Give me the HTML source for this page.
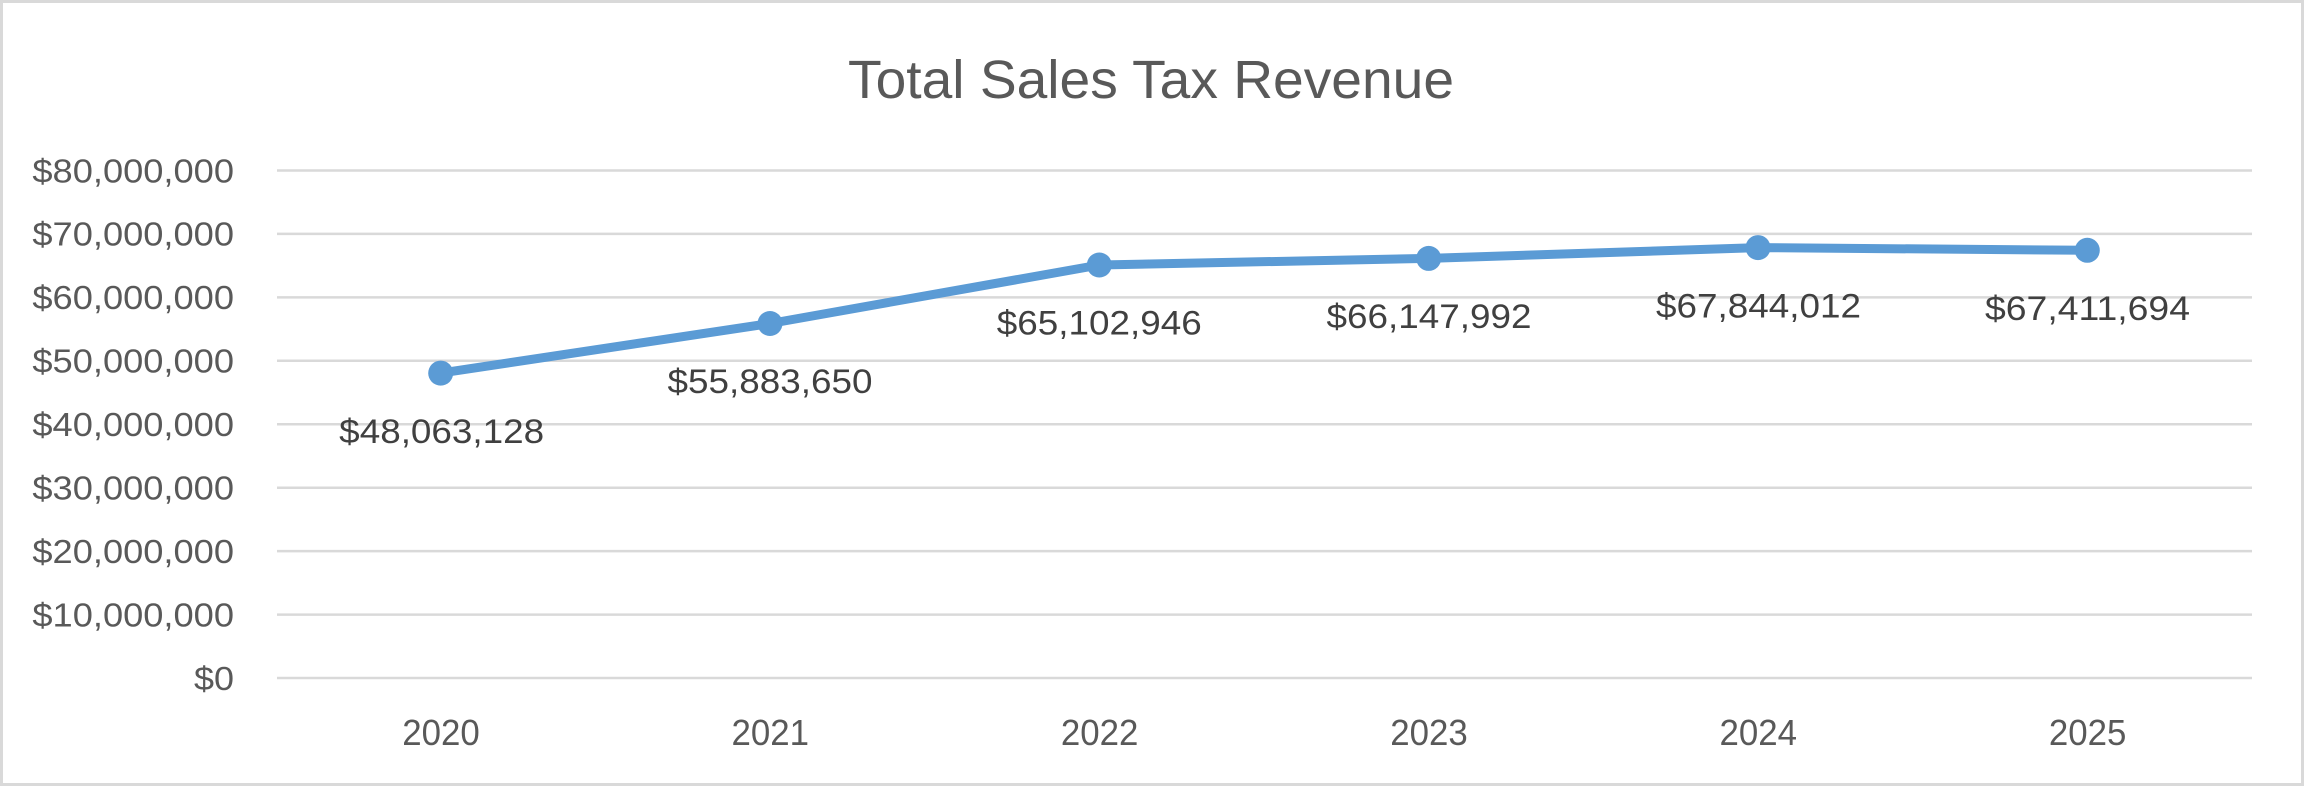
<!DOCTYPE html>
<html>
<head>
<meta charset="utf-8">
<style>
  html, body { margin: 0; padding: 0; background: #ffffff; }
  svg { display: block; }
</style>
</head>
<body>
<svg width="2304" height="786" viewBox="0 0 2304 786" xmlns="http://www.w3.org/2000/svg">
  <rect x="0" y="0" width="2304" height="786" fill="#ffffff"/>
  <rect x="1.5" y="1.5" width="2301" height="783" fill="none" stroke="#d9d9d9" stroke-width="3"/>

  <!-- Title -->
  <text x="1151" y="98" text-anchor="middle" font-family="'Liberation Sans', sans-serif" font-size="54" fill="#595959" textLength="606" lengthAdjust="spacingAndGlyphs">Total Sales Tax Revenue</text>

  <!-- Gridlines -->
  <g stroke="#d9d9d9" stroke-width="2.5">
    <line x1="277" y1="678" x2="2252" y2="678"/>
    <line x1="277" y1="614.6" x2="2252" y2="614.6"/>
    <line x1="277" y1="551.1" x2="2252" y2="551.1"/>
    <line x1="277" y1="487.7" x2="2252" y2="487.7"/>
    <line x1="277" y1="424.2" x2="2252" y2="424.2"/>
    <line x1="277" y1="360.8" x2="2252" y2="360.8"/>
    <line x1="277" y1="297.4" x2="2252" y2="297.4"/>
    <line x1="277" y1="233.9" x2="2252" y2="233.9"/>
    <line x1="277" y1="170.5" x2="2252" y2="170.5"/>
  </g>

  <!-- Y axis labels -->
  <g font-family="'Liberation Sans', sans-serif" font-size="33" fill="#595959" text-anchor="end">
    <text x="234" y="182.3" textLength="201.6" lengthAdjust="spacingAndGlyphs">$80,000,000</text>
    <text x="234" y="245.7" textLength="201.6" lengthAdjust="spacingAndGlyphs">$70,000,000</text>
    <text x="234" y="309.2" textLength="201.6" lengthAdjust="spacingAndGlyphs">$60,000,000</text>
    <text x="234" y="372.6" textLength="201.6" lengthAdjust="spacingAndGlyphs">$50,000,000</text>
    <text x="234" y="436" textLength="201.6" lengthAdjust="spacingAndGlyphs">$40,000,000</text>
    <text x="234" y="499.5" textLength="201.6" lengthAdjust="spacingAndGlyphs">$30,000,000</text>
    <text x="234" y="562.9" textLength="201.6" lengthAdjust="spacingAndGlyphs">$20,000,000</text>
    <text x="234" y="626.4" textLength="201.6" lengthAdjust="spacingAndGlyphs">$10,000,000</text>
    <text x="234" y="689.8" textLength="40" lengthAdjust="spacingAndGlyphs">$0</text>
  </g>

  <!-- X axis labels -->
  <g font-family="'Liberation Sans', sans-serif" font-size="36" fill="#595959" text-anchor="middle">
    <text x="441" y="745" textLength="77.5" lengthAdjust="spacingAndGlyphs">2020</text>
    <text x="770.3" y="745" textLength="77.5" lengthAdjust="spacingAndGlyphs">2021</text>
    <text x="1099.6" y="745" textLength="77.5" lengthAdjust="spacingAndGlyphs">2022</text>
    <text x="1429" y="745" textLength="77.5" lengthAdjust="spacingAndGlyphs">2023</text>
    <text x="1758.3" y="745" textLength="77.5" lengthAdjust="spacingAndGlyphs">2024</text>
    <text x="2087.6" y="745" textLength="77.5" lengthAdjust="spacingAndGlyphs">2025</text>
  </g>

  <!-- Series line -->
  <polyline points="440.7,373.1 770,323.5 1099.3,265 1428.7,258.4 1758,247.6 2087.3,250.3"
            fill="none" stroke="#5b9bd5" stroke-width="9" stroke-linejoin="round" stroke-linecap="round"/>

  <!-- Markers -->
  <g fill="#5b9bd5">
    <circle cx="440.7" cy="373.1" r="12.5"/>
    <circle cx="770" cy="323.5" r="12.5"/>
    <circle cx="1099.3" cy="265" r="12.5"/>
    <circle cx="1428.7" cy="258.4" r="12.5"/>
    <circle cx="1758" cy="247.6" r="12.5"/>
    <circle cx="2087.3" cy="250.3" r="12.5"/>
  </g>

  <!-- Data labels -->
  <g font-family="'Liberation Sans', sans-serif" font-size="34" fill="#404040" text-anchor="middle">
    <text x="441.7" y="443" textLength="205" lengthAdjust="spacingAndGlyphs">$48,063,128</text>
    <text x="770" y="393.2" textLength="205" lengthAdjust="spacingAndGlyphs">$55,883,650</text>
    <text x="1099.3" y="334.7" textLength="205" lengthAdjust="spacingAndGlyphs">$65,102,946</text>
    <text x="1429" y="328" textLength="205" lengthAdjust="spacingAndGlyphs">$66,147,992</text>
    <text x="1758.5" y="317.5" textLength="205" lengthAdjust="spacingAndGlyphs">$67,844,012</text>
    <text x="2087.5" y="320" textLength="205" lengthAdjust="spacingAndGlyphs">$67,411,694</text>
  </g>
</svg>
</body>
</html>
